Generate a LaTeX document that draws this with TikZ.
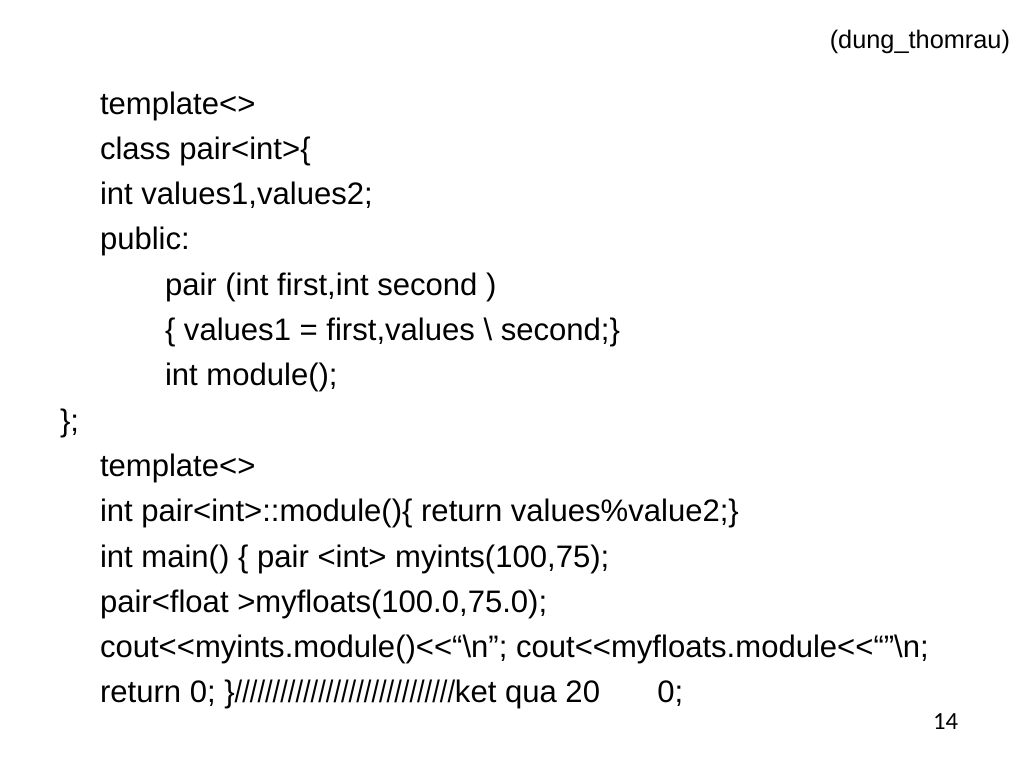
\documentclass[tikz,border=0pt]{standalone}
\usepackage{fontspec}
\usepackage{graphicx}
\setmainfont{Liberation Sans}
\newfontfamily\numfont{Carlito}
\begin{document}
\begin{tikzpicture}[x=0.75pt, y=-0.75pt, every node/.style={inner sep=0pt, outer sep=0pt, font=\fontsize{23.3pt}{28pt}\selectfont}]

        \useasboundingbox [fill=white] (0, 0) rectangle (1024, 768);

        \node (hdr) at (1010, 48) [anchor = base east, font=\fontsize{19pt}{23pt}\selectfont] {(dung\_thomrau)};

        \node (l1) at (100, 114) [anchor = base west] {template<>};
        \node (l2) at (100, 159.3) [anchor = base west] {class pair<int>\{};
        \node (l3) at (100, 204.6) [anchor = base west] {int values1,values2;};
        \node (l4) at (100, 249.9) [anchor = base west] {public:};
        \node (l5) at (165, 295.2) [anchor = base west] {pair (int first,int second )};
        \node (l6) at (165, 340.5) [anchor = base west] {\{ values1 = first,values \textbackslash{} second;\}};
        \node (l7) at (165, 385.8) [anchor = base west] {int module();};
        \node (l8) at (60, 431.1) [anchor = base west] {\};};
        \node (l9) at (100, 476.4) [anchor = base west] {template<>};
        \node (l10) at (100, 521.7) [anchor = base west] {int pair<int>::module()\{ return values\%value2;\}};
        \node (l11) at (100, 567) [anchor = base west] {int main() \{ pair <int> myints(100,75);};
        \node (l12) at (100, 612.3) [anchor = base west] {pair<float >myfloats(100.0,75.0);};
        \node (l13) at (100, 657.6) [anchor = base west] {cout<{}<myints.module()<{}<“\textbackslash n”; cout<{}<myfloats.module<{}<“”\textbackslash n;};
        \node (l14) at (100, 702.9) [anchor = base west] {return 0; \}\scalebox{0.88}[1]{/////////////////////////////}ket qua 20\hspace{43pt}0;};

        \node (pg) at (958, 729) [anchor = base east, font=\numfont\fontsize{18.5pt}{22pt}\selectfont] {14};

    \end{tikzpicture}
\end{document}
